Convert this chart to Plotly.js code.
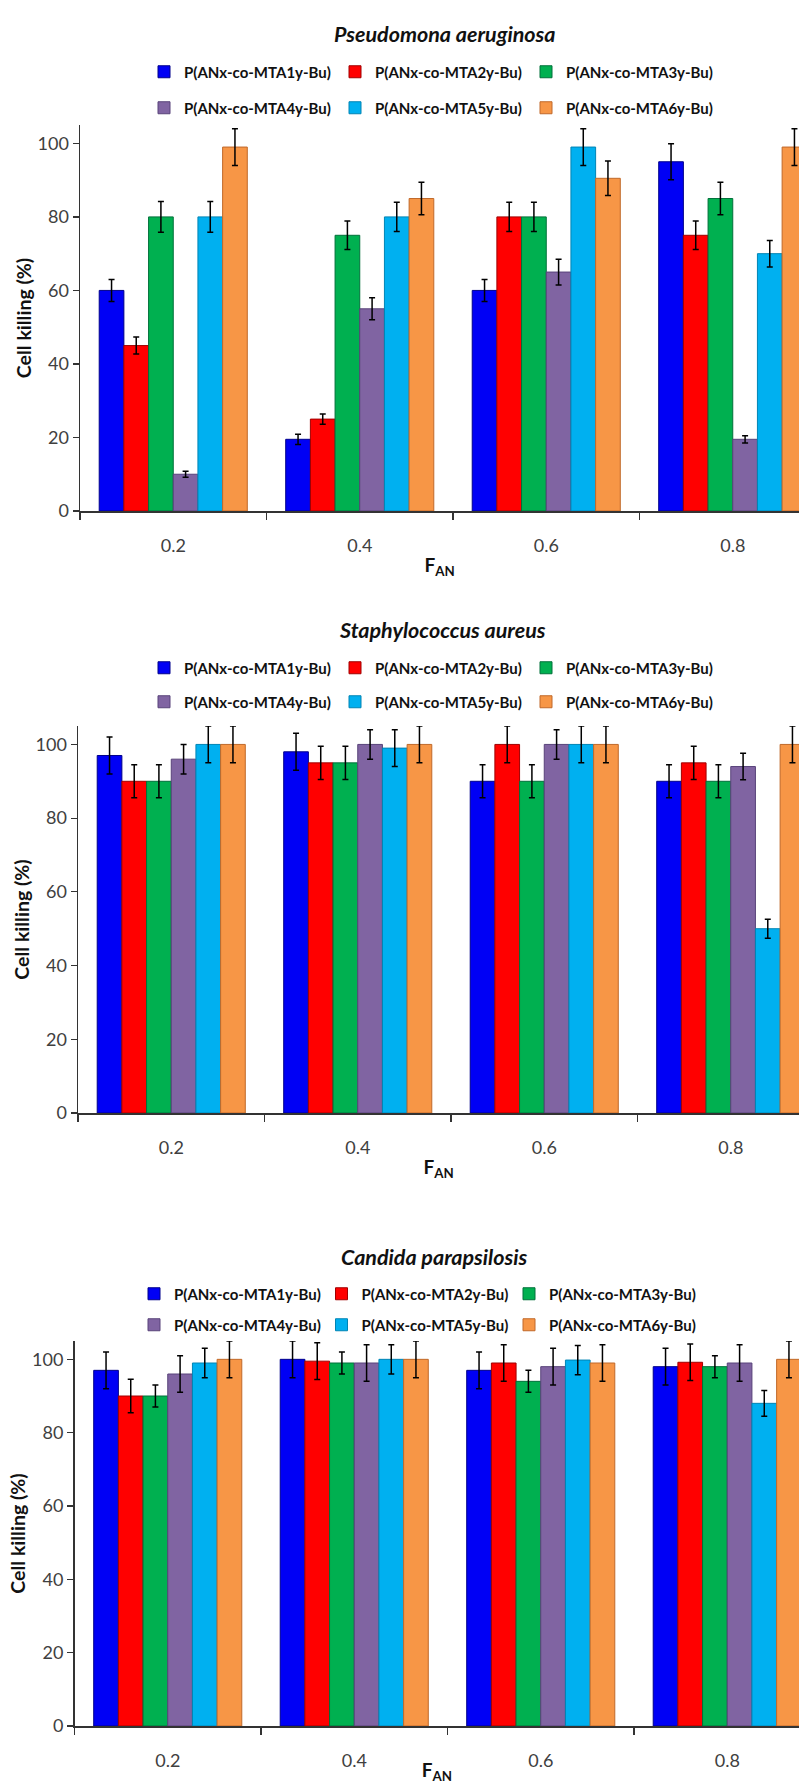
<!DOCTYPE html>
<html>
<head>
<meta charset="utf-8">
<script src="https://cdn.plot.ly/plotly-3.0.1.min.js"></script>
<style>
  html, body { margin: 0; padding: 0; background: #ffffff; }
  #chart { width: 799px; height: 1784px; }
</style>
</head>
<body>
<div id="chart"></div>
<script>
// ---------- categories & series ----------
const categories = ['0.2', '0.4', '0.6', '0.8'];
const seriesNames = [
  'P(ANx-co-MTA1y-Bu)', 'P(ANx-co-MTA2y-Bu)', 'P(ANx-co-MTA3y-Bu)',
  'P(ANx-co-MTA4y-Bu)', 'P(ANx-co-MTA5y-Bu)', 'P(ANx-co-MTA6y-Bu)'
];
const seriesColors = ['#0000F5', '#FF0000', '#00B050', '#8064A2', '#00B0F0', '#F79646'];
const seriesEdges  = ['#00008B', '#A00000', '#00703A', '#58437A', '#0084B4', '#C0692A'];
const panelTitles = ['Pseudomona aeruginosa', 'Staphylococcus aureus', 'Candida parapsilosis'];
const yTickValues = [0, 20, 40, 60, 80, 100];

// ---------- Pseudomona aeruginosa ----------
const pseudomonaMTA1 = [60, 19.5, 60, 95];
const pseudomonaMTA2 = [45, 25, 80, 75];
const pseudomonaMTA3 = [80, 75, 80, 85];
const pseudomonaMTA4 = [10, 55, 65, 19.5];
const pseudomonaMTA5 = [80, 80, 99, 70];
const pseudomonaMTA6 = [99, 85, 90.5, 99];
const pseudomonaErr1 = [3, 1.4, 3, 4.9];
const pseudomonaErr2 = [2.3, 1.4, 4, 3.9];
const pseudomonaErr3 = [4.2, 3.9, 4, 4.4];
const pseudomonaErr4 = [0.8, 3, 3.5, 1];
const pseudomonaErr5 = [4.2, 4, 5, 3.6];
const pseudomonaErr6 = [5, 4.4, 4.7, 5];

// ---------- Staphylococcus aureus ----------
const staphMTA1 = [97, 98, 90, 90];
const staphMTA2 = [90, 95, 100, 95];
const staphMTA3 = [90, 95, 90, 90];
const staphMTA4 = [96, 100, 100, 94];
const staphMTA5 = [100, 99, 100, 50];
const staphMTA6 = [100, 100, 100, 100];
const staphErr1 = [5, 5, 4.5, 4.5];
const staphErr2 = [4.5, 4.5, 5, 4.5];
const staphErr3 = [4.5, 4.5, 4.5, 4.5];
const staphErr4 = [4, 4, 4, 3.6];
const staphErr5 = [5, 5, 5, 2.6];
const staphErr6 = [5, 5, 5, 5];

// ---------- Candida parapsilosis ----------
const candidaMTA1 = [97, 100, 97, 98];
const candidaMTA2 = [90, 99.5, 99, 99.2];
const candidaMTA3 = [90, 99, 94, 98];
const candidaMTA4 = [96, 99, 98, 99];
const candidaMTA5 = [99, 100, 99.8, 88];
const candidaMTA6 = [100, 100, 99, 100];
const candidaErr1 = [5, 5, 5, 5];
const candidaErr2 = [4.6, 5, 5, 5];
const candidaErr3 = [3, 3, 3, 3];
const candidaErr4 = [5, 5, 5, 5];
const candidaErr5 = [4, 4, 4, 3.5];
const candidaErr6 = [5, 5, 5, 5];

const panelValues = [
  [pseudomonaMTA1, pseudomonaMTA2, pseudomonaMTA3, pseudomonaMTA4, pseudomonaMTA5, pseudomonaMTA6],
  [staphMTA1, staphMTA2, staphMTA3, staphMTA4, staphMTA5, staphMTA6],
  [candidaMTA1, candidaMTA2, candidaMTA3, candidaMTA4, candidaMTA5, candidaMTA6]
];
const panelErrors = [
  [pseudomonaErr1, pseudomonaErr2, pseudomonaErr3, pseudomonaErr4, pseudomonaErr5, pseudomonaErr6],
  [staphErr1, staphErr2, staphErr3, staphErr4, staphErr5, staphErr6],
  [candidaErr1, candidaErr2, candidaErr3, candidaErr4, candidaErr5, candidaErr6]
];

// ---------- geometry (pixels in a 799 x 1784 page) ----------
const W = 799, H = 1784;
const FONT = 'Lato, "Liberation Sans", Arial, sans-serif';
const panelGeom = [
  { x0: 80,   top: 125,  bottom: 511,  titleY: 34,   titleX: 445, legY: [72, 108],    legX: 144, entry: 146 },
  { x0: 78,   top: 726,  bottom: 1113, titleY: 630,  titleX: 443, legY: [668, 702],   legX: 144, entry: 146 },
  { x0: 74.5, top: 1341, bottom: 1726, titleY: 1257, titleX: 434, legY: [1294, 1325], legX: 134, entry: 142.5 }
];
const pitch = 186.5;

const traces = [];
const layout = {
  width: W, height: H,
  margin: { l: 0, r: 0, t: 0, b: 0 },
  paper_bgcolor: '#ffffff', plot_bgcolor: '#ffffff',
  barmode: 'group', bargap: 0.206, bargroupgap: 0,
  font: { family: FONT, color: '#222222' },
  showlegend: true,
  annotations: []
};

const legendNames = [['legend', 'legend2'], ['legend3', 'legend4'], ['legend5', 'legend6']];

panelGeom.forEach((g, p) => {
  const sfx = p === 0 ? '' : String(p + 1);
  const xName = 'x' + sfx, yName = 'y' + sfx;
  const xRight = (W - g.x0) / pitch - 0.5;

  layout['xaxis' + sfx] = {
    domain: [g.x0 / W, 1], anchor: yName,
    type: 'category', range: [-0.5, xRight],
    tickson: 'boundaries', ticks: 'outside', ticklen: 7, tickwidth: 1.2, tickcolor: '#333333',
    showline: true, linecolor: '#333333', linewidth: 1.5,
    showgrid: false, zeroline: false, fixedrange: true,
    tickfont: { family: FONT, size: 18, color: '#404040' },
    ticklabelstandoff: 18,
    title: { text: 'F<sub>AN</sub>', standoff: 3, font: { family: FONT, size: 19, weight: 700, color: '#111111' } }
  };
  layout['yaxis' + sfx] = {
    domain: [1 - g.bottom / H, 1 - g.top / H], anchor: xName,
    range: [0, 105], tickvals: yTickValues,
    ticks: 'outside', ticklen: 6, tickwidth: 1.2, tickcolor: '#333333',
    showline: true, linecolor: '#333333', linewidth: 1.5,
    showgrid: false, zeroline: false, fixedrange: true,
    tickfont: { family: FONT, size: 18, color: '#404040' },
    title: { text: 'Cell killing (%)', font: { family: FONT, size: 19.5, weight: 700, color: '#111111' } }
  };

  // legends: two rows of three
  [0, 1].forEach(r => {
    layout[legendNames[p][r]] = {
      orientation: 'h', x: g.legX / W, xanchor: 'left',
      y: 1 - g.legY[r] / H, yanchor: 'middle',
      entrywidth: g.entry, entrywidthmode: 'pixels',
      bgcolor: 'rgba(0,0,0,0)', borderwidth: 0,
      font: { family: FONT, size: 15, weight: 700, color: '#111111' },
      traceorder: 'normal', itemclick: false, itemdoubleclick: false
    };
  });

  // panel title
  layout.annotations.push({
    text: panelTitles[p], xref: 'paper', yref: 'paper',
    x: g.titleX / W, y: 1 - g.titleY / H, xanchor: 'center', yanchor: 'middle',
    showarrow: false,
    font: { family: FONT, size: 21.5, style: 'italic', weight: 700, color: '#111111' }
  });

  seriesNames.forEach((name, s) => {
    const tr = {
      type: 'bar', name: name,
      x: categories, y: panelValues[p][s],
      xaxis: xName, yaxis: yName,
      legend: legendNames[p][s < 3 ? 0 : 1],
      marker: { color: seriesColors[s], line: { color: seriesEdges[s], width: 1 } },
      error_y: { type: 'data', array: panelErrors[p][s], visible: true, color: '#000000', thickness: 1.5, width: 3 },
      hoverinfo: 'x+y+name'
    };
    // last entry of each legend row gets extra room so its text is not clipped
    if (s % 3 === 2) tr.legendwidth = g.entry + 30;
    traces.push(tr);
  });
});

Plotly.newPlot('chart', traces, layout, { displayModeBar: false, staticPlot: true });
</script>
</body>
</html>
